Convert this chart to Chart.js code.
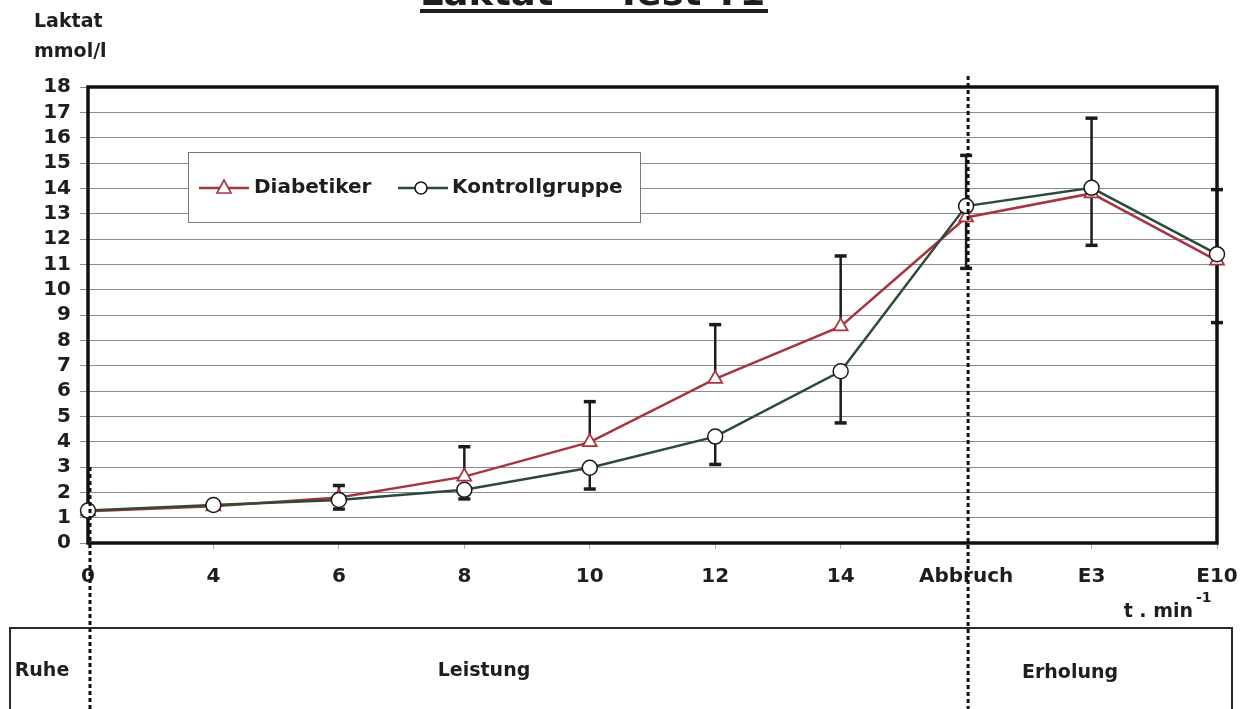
<!DOCTYPE html>
<html lang="de">
<head>
<meta charset="utf-8">
<title>Laktat – Test T1</title>
<script src="https://cdn.jsdelivr.net/npm/chart.js@4.4.1/dist/chart.umd.min.js"></script>
<style>
  html, body { margin: 0; padding: 0; background: #fff; }
  #wrap { position: relative; width: 1250px; height: 709px; }
  canvas { display: block; }
</style>
</head>
<body>
<div id="wrap"><canvas id="c" width="1250" height="709"></canvas></div>
<script>
// Messzeitpunkte (Minuten bzw. Phasen)
const categories = ['0', '4', '6', '8', '10', '12', '14', 'Abbruch', 'E3', 'E10'];

// Laktat-Mittelwerte in mmol/l
const diabetiker     = [1.25, 1.45, 1.80, 2.62, 3.98, 6.48, 8.55, 12.85, 13.80, 11.15];
const kontrollgruppe = [1.28, 1.50, 1.70, 2.10, 2.97, 4.20, 6.78, 13.30, 14.02, 11.40];

// Standardabweichungen: Diabetiker nach oben, Kontrollgruppe nach unten
const diabetikerSD     = [0, 0.10, 0.47, 1.18, 1.60, 2.14, 2.78, 2.45, 2.97, 2.80];
const kontrollgruppeSD = [0, 0.10, 0.36, 0.36, 0.84, 1.10, 2.04, 2.46, 2.27, 2.70];

// y-Achse
const yMin = 0, yMax = 18, yStep = 1;

// Phasen unterhalb der Achse
const phasen = ['Ruhe', 'Leistung', 'Erholung'];
const ruheGrenzeWert = 3;            // gepunktete Linie bei t=0 beginnt hier
const abbruchIndex = 7;

const FONT = '"DejaVu Sans", Verdana, sans-serif';
const RED = '#a8343f';
const GREEN = '#2c4a36';

const extras = {
  id: 'extras',
  beforeDatasetsDraw(chart) {
    const { ctx, chartArea: a, scales: { x, y } } = chart;
    ctx.save();
    // Fehlerbalken
    ctx.strokeStyle = '#1c1c1c';
    ctx.lineCap = 'butt';
    const bar = (i, from, to) => {
      const px = x.getPixelForValue(i);
      const y0 = y.getPixelForValue(from);
      const y1 = y.getPixelForValue(to);
      ctx.lineWidth = 2.5;
      ctx.beginPath(); ctx.moveTo(px, y0); ctx.lineTo(px, y1); ctx.stroke();
      ctx.lineWidth = 3.5;
      ctx.beginPath(); ctx.moveTo(px - 6, y1); ctx.lineTo(px + 6, y1); ctx.stroke();
    };
    categories.forEach((c, i) => {
      if (diabetikerSD[i] > 0) bar(i, diabetiker[i], diabetiker[i] + diabetikerSD[i]);
      if (kontrollgruppeSD[i] > 0) bar(i, kontrollgruppe[i], kontrollgruppe[i] - kontrollgruppeSD[i]);
    });
    // Rahmen des Diagrammbereichs
    ctx.strokeStyle = '#111';
    ctx.lineWidth = 3.5;
    ctx.strokeRect(a.left, a.top, a.right - a.left, a.bottom - a.top);
    ctx.restore();
  },
  afterDatasetsDraw(chart) {
    const { ctx, height, scales: { x, y } } = chart;
    ctx.save();
    ctx.strokeStyle = '#111';
    ctx.lineWidth = 3;
    ctx.setLineDash([4, 3]);
    // Trennlinie Ruhe | Leistung
    const x0 = x.getPixelForValue(0) + 2;
    ctx.beginPath(); ctx.moveTo(x0, y.getPixelForValue(ruheGrenzeWert)); ctx.lineTo(x0, height); ctx.stroke();
    // Trennlinie Leistung | Erholung
    const xa = x.getPixelForValue(abbruchIndex) + 2;
    ctx.beginPath(); ctx.moveTo(xa, 76); ctx.lineTo(xa, height); ctx.stroke();
    ctx.restore();
  },
  afterDraw(chart) {
    const { ctx } = chart;
    ctx.save();
    ctx.fillStyle = '#1e1e1e';

    // Titel
    ctx.font = 'bold 37px ' + FONT;
    ctx.textAlign = 'left';
    ctx.textBaseline = 'alphabetic';
    ctx.fillText('Laktat \u2014 Test T1', 420, 5);
    ctx.fillRect(420, 9, 348, 4);

    // Achsentitel y
    ctx.font = 'bold 19px ' + FONT;
    ctx.textBaseline = 'middle';
    ctx.fillText('Laktat', 34, 22);
    ctx.fillText('mmol/l', 34, 52);

    // Achsentitel x
    ctx.font = 'bold 19px ' + FONT;
    ctx.textAlign = 'right';
    ctx.fillText('t . min', 1193, 612);
    ctx.font = 'bold 14px ' + FONT;
    ctx.textAlign = 'left';
    ctx.fillText('-1', 1196, 598);

    // Legende
    ctx.fillStyle = '#fff';
    ctx.fillRect(188, 152, 452, 70);
    ctx.strokeStyle = '#777';
    ctx.lineWidth = 1;
    ctx.strokeRect(188.5, 152.5, 452, 70);
    const ly = 188;
    ctx.lineWidth = 2.5;
    ctx.strokeStyle = RED;
    ctx.beginPath(); ctx.moveTo(199, ly); ctx.lineTo(249, ly); ctx.stroke();
    ctx.strokeStyle = GREEN;
    ctx.beginPath(); ctx.moveTo(398, ly); ctx.lineTo(448, ly); ctx.stroke();
    ctx.lineWidth = 1.6;
    ctx.fillStyle = '#fff';
    ctx.strokeStyle = RED;
    ctx.beginPath();
    ctx.moveTo(224, ly - 8); ctx.lineTo(231, ly + 5); ctx.lineTo(217, ly + 5); ctx.closePath();
    ctx.fill(); ctx.stroke();
    ctx.strokeStyle = '#1a1a1a';
    ctx.beginPath(); ctx.arc(421, ly, 6, 0, Math.PI * 2); ctx.fill(); ctx.stroke();
    ctx.fillStyle = '#1e1e1e';
    ctx.font = 'bold 20px ' + FONT;
    ctx.textBaseline = 'middle';
    ctx.fillText('Diabetiker', 254, ly);
    ctx.fillText('Kontrollgruppe', 452, ly);

    // Phasenkasten
    ctx.strokeStyle = '#2a2a2a';
    ctx.lineWidth = 2;
    ctx.beginPath();
    ctx.moveTo(10, 709); ctx.lineTo(10, 628); ctx.lineTo(1232, 628); ctx.lineTo(1232, 709);
    ctx.stroke();
    ctx.font = 'bold 19px ' + FONT;
    ctx.textAlign = 'center';
    ctx.fillText(phasen[0], 42, 671);
    ctx.fillText(phasen[1], 484, 671);
    ctx.fillText(phasen[2], 1070, 673);
    ctx.restore();
  }
};

new Chart(document.getElementById('c'), {
  type: 'line',
  data: {
    labels: categories,
    datasets: [
      {
        label: 'Diabetiker',
        data: diabetiker,
        borderColor: RED,
        borderWidth: 2.5,
        pointStyle: 'triangle',
        pointRadius: 8,
        pointBorderColor: RED,
        pointBackgroundColor: '#fff',
        pointBorderWidth: 1.8,
        tension: 0,
        order: 1
      },
      {
        label: 'Kontrollgruppe',
        data: kontrollgruppe,
        borderColor: GREEN,
        borderWidth: 2.5,
        pointStyle: 'circle',
        pointRadius: 7.5,
        pointBorderColor: '#1a1a1a',
        pointBackgroundColor: '#fff',
        pointBorderWidth: 1.5,
        tension: 0,
        order: 0
      }
    ]
  },
  options: {
    responsive: false,
    animation: false,
    layout: { padding: { top: 87, right: 33, left: 0, bottom: 0 } },
    plugins: { legend: { display: false }, tooltip: { enabled: false } },
    scales: {
      x: {
        type: 'category',
        offset: false,
        grid: { drawOnChartArea: false, tickLength: 6, color: '#aaa' },
        border: { display: false },
        ticks: {
          color: '#1e1e1e',
          padding: 16,
          maxRotation: 0,
          autoSkip: false,
          font: { family: FONT, size: 20, weight: 'bold' }
        },
        afterFit(scale) {
          scale.height = 166;
          scale.paddingLeft = 0;
          scale.paddingRight = 0;
        }
      },
      y: {
        min: yMin,
        max: yMax,
        grid: { color: '#8c8c8c', lineWidth: 1, tickLength: 8 },
        border: { display: false },
        ticks: {
          stepSize: yStep,
          autoSkip: false,
          color: '#1e1e1e',
          padding: 9,
          font: { family: FONT, size: 20, weight: 'bold' }
        },
        afterFit(scale) { scale.width = 88; }
      }
    }
  },
  plugins: [extras]
});
</script>
</body>
</html>
